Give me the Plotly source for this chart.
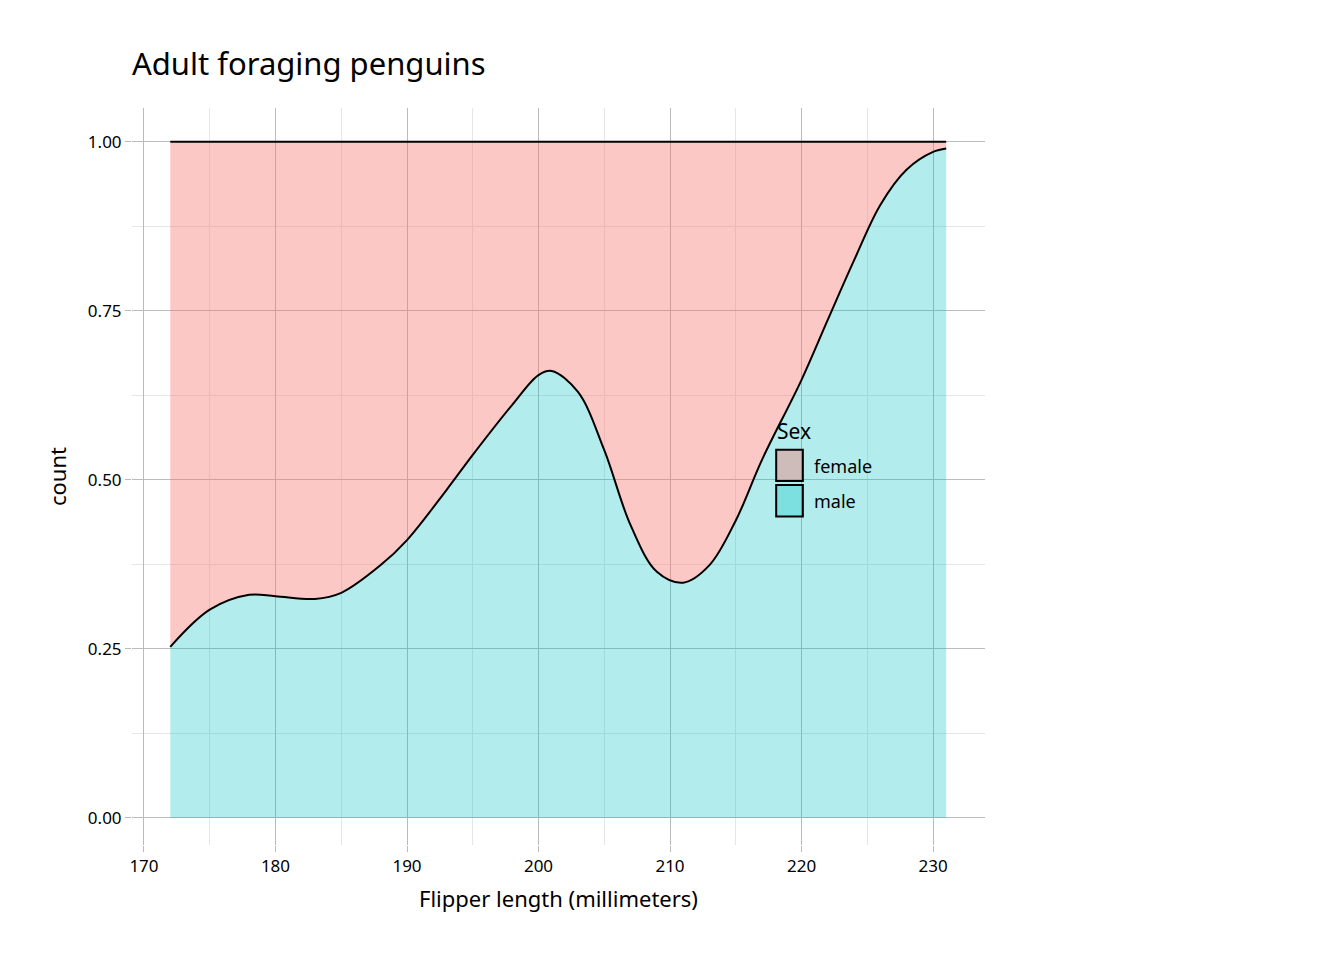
import plotly.graph_objects as go

flipper = [172,175,178,180,183,185,188,190,193,195,198,200,201,203,205,207,209,211,213,215,217,220,222,224,226,228,230,231]
male_frac = [0.253,0.308,0.33,0.328,0.324,0.333,0.374,0.411,0.485,0.537,0.611,0.655,0.661,0.63,0.544,0.433,0.364,0.348,0.374,0.44,0.53,0.648,0.737,0.825,0.907,0.959,0.985,0.99]
total = [1.0]*len(flipper)
sexes = ["female", "male"]
fills = ["rgba(248,118,109,0.4)", "rgba(0,191,196,0.3)"]

fig = go.Figure()
fig.add_trace(go.Scatter(x=flipper, y=male_frac, mode="lines", line=dict(color="black", width=2, shape="spline"),
                         fill="tozeroy", fillcolor=fills[1], name="male", showlegend=False))
fig.add_trace(go.Scatter(x=flipper, y=total, mode="lines", line=dict(color="black", width=2),
                         fill="tonexty", fillcolor=fills[0], name="female", showlegend=False))

W, H = 1344, 960
def px(xp): return (xp - 8) / W
def py(yp): return 1 - (yp - 8) / H

shapes = []
annotations = [dict(text="Sex", x=px(1021), y=py(429), xref="paper", yref="paper", xanchor="left",
                    yanchor="middle", showarrow=False, font=dict(size=21))]
for i, (s, c) in enumerate(zip(sexes, fills)):
    top = 453 + i * 46
    shapes.append(dict(type="rect", xref="paper", yref="paper", x0=px(1023), x1=px(1065), y0=py(top), y1=py(top + 41),
                       fillcolor=c, line=dict(color="black", width=2)))
    annotations.append(dict(text=s, x=px(1079), y=py(top + 21), xref="paper", yref="paper", xanchor="left",
                            yanchor="middle", showarrow=False, font=dict(size=18)))

fig.update_layout(
    width=W, height=H, paper_bgcolor="white", plot_bgcolor="white",
    margin=dict(l=124, r=367, t=100, b=123),
    font=dict(family="Noto Sans", size=17, color="black"),
    title=dict(text="Adult foraging penguins", x=px(132), xanchor="left", y=py(64), yanchor="middle",
               font=dict(size=31, color="black")),
    showlegend=False, shapes=shapes, annotations=annotations,
    xaxis=dict(range=[169.09, 233.95], tickvals=[170,180,190,200,210,220,230], ticks="outside", ticklen=6,
               tickcolor="#bbbbbb", showline=False, zeroline=False, gridcolor="#bbbbbb", gridwidth=1.3,
               minor=dict(tickvals=[175,185,195,205,215,225], showgrid=True, gridcolor="#e6e6e6"),
               title=dict(text="Flipper length (millimeters)", font=dict(size=22)), tickfont=dict(size=17)),
    yaxis=dict(range=[-0.04, 1.05], tickvals=[0,0.25,0.5,0.75,1.0], ticktext=["0.00","0.25","0.50","0.75","1.00"],
               ticks="outside", ticklen=6, tickcolor="#bbbbbb", showline=False, zeroline=False,
               gridcolor="#bbbbbb", gridwidth=1.3,
               minor=dict(tickvals=[0.125,0.375,0.625,0.875], showgrid=True, gridcolor="#e6e6e6"),
               title=dict(text="count", font=dict(size=22)), tickfont=dict(size=17)),
)
fig.write_html("out.html")
